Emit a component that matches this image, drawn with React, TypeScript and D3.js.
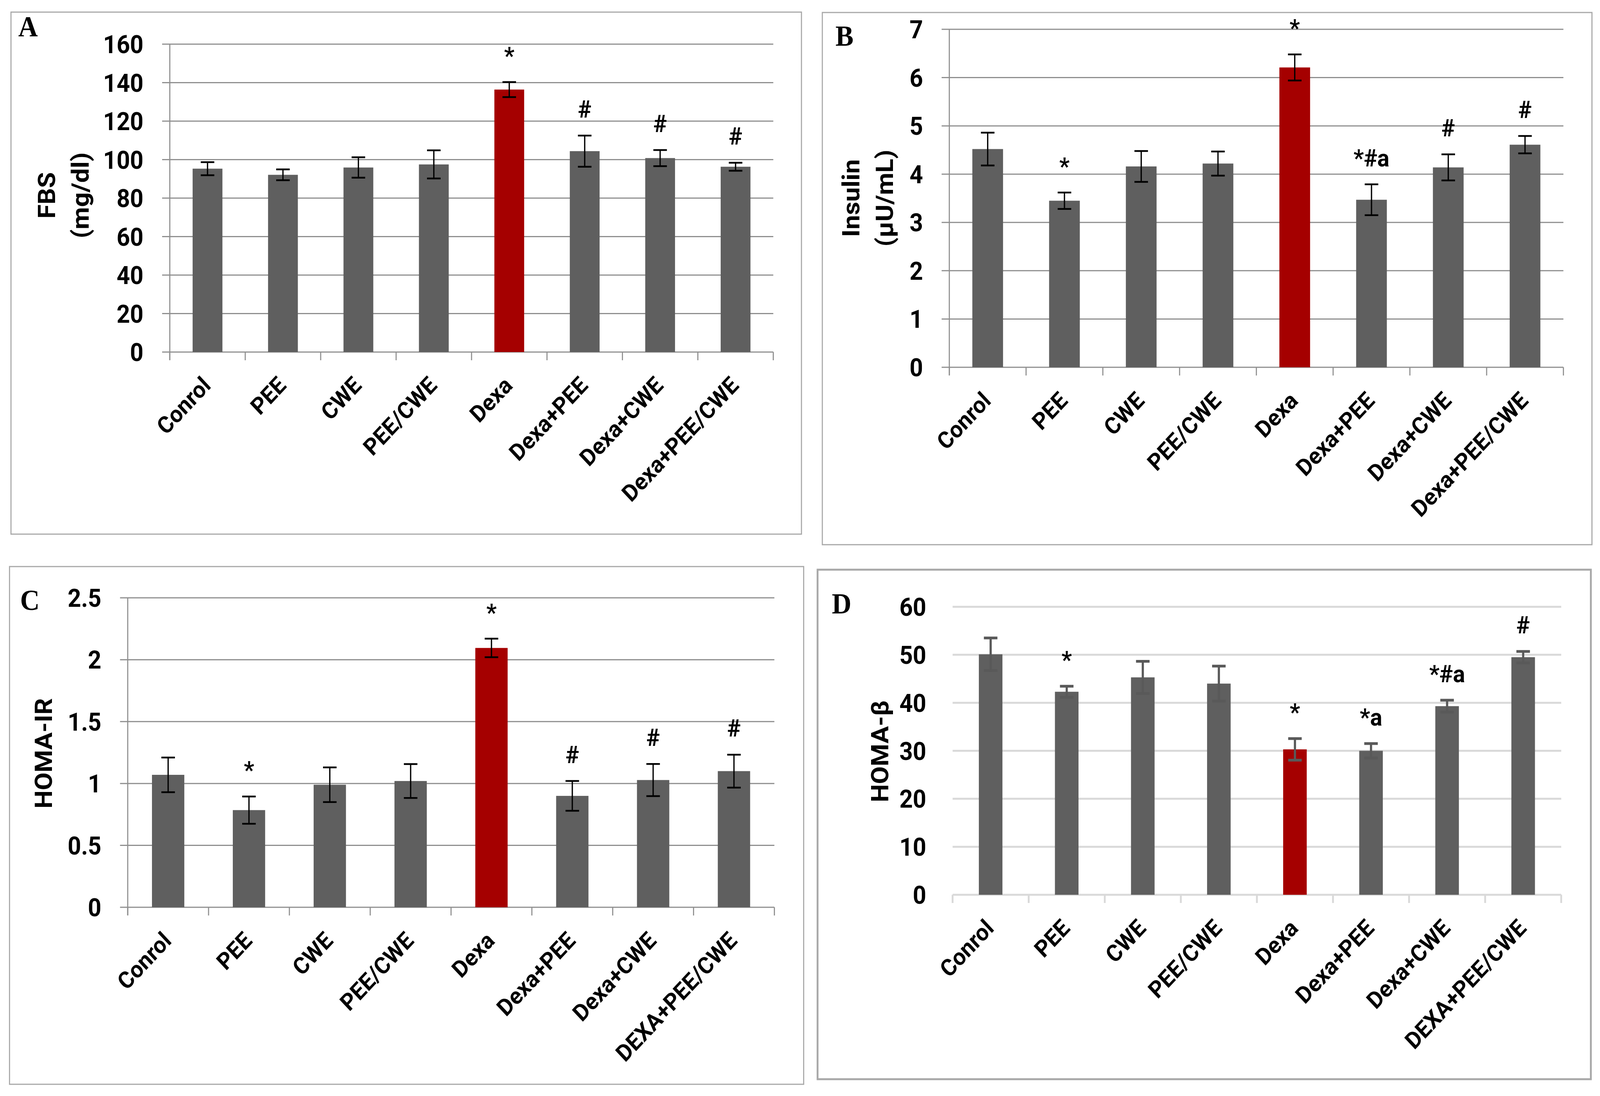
import * as d3 from "d3";

// group labels, as printed under the bars
const groups = ["Conrol", "PEE", "CWE", "PEE/CWE", "Dexa", "Dexa+PEE", "Dexa+CWE", "Dexa+PEE/CWE"];
const groupsUpper = ["Conrol", "PEE", "CWE", "PEE/CWE", "Dexa", "Dexa+PEE", "Dexa+CWE", "DEXA+PEE/CWE"];

// A: fasting blood sugar
const fbsMean = [95.3, 92.1, 95.9, 97.5, 136.4, 104.4, 100.8, 96.3];
const fbsErr = [3.4, 2.8, 5.3, 7.3, 3.9, 8.1, 4.2, 2.1];
const fbsMarks = ["", "", "", "", "*", "#", "#", "#"];
const fbsTicks = [0, 20, 40, 60, 80, 100, 120, 140, 160];

// B: insulin
const insulinMean = [4.52, 3.45, 4.16, 4.22, 6.21, 3.47, 4.14, 4.61];
const insulinErr = [0.34, 0.17, 0.32, 0.25, 0.27, 0.32, 0.27, 0.18];
const insulinMarks = ["", "*", "", "", "*", "*#a", "#", "#"];
const insulinTicks = [0, 1, 2, 3, 4, 5, 6, 7];

// C: HOMA-IR
const homaIrMean = [1.07, 0.785, 0.99, 1.02, 2.095, 0.9, 1.028, 1.1];
const homaIrErr = [0.14, 0.11, 0.14, 0.137, 0.075, 0.12, 0.13, 0.133];
const homaIrMarks = ["", "*", "", "", "*", "#", "#", "#"];
const homaIrTicks = [0, 0.5, 1, 1.5, 2, 2.5];

// D: HOMA-beta
const homaBMean = [50.1, 42.3, 45.3, 44.0, 30.3, 30.0, 39.3, 49.5];
const homaBErr = [3.4, 1.15, 3.35, 3.65, 2.25, 1.5, 1.25, 1.2];
const homaBMarks = ["", "*", "", "", "*", "*a", "*#a", "#"];
const homaBTicks = [0, 10, 20, 30, 40, 50, 60];

const highlight = "Dexa";

const font = "Roboto, 'DejaVu Sans', sans-serif";
const barGray = "#5f5f5f";
const barRed = "#a50000";

type PanelSpec = {
  letter: string;
  box: [number, number, number, number]; // x, y, w, h
  letterPos: [number, number];
  x0: number;
  x1: number;
  yTop: number;
  y0: number;
  categories: string[];
  mean: number[];
  err: number[];
  marks: string[];
  ticks: number[];
  title: string[];
  titleX: number[]; // baselines of the rotated title lines
  titleY: number;
  barRatio: number;
  light: boolean; // panel D uses the light excel theme
};

const panels: PanelSpec[] = [
  {
    letter: "A",
    box: [30, 31, 2160, 1336],
    letterPos: [50, 93],
    x0: 464,
    x1: 2113,
    yTop: 113,
    y0: 901,
    categories: groups,
    mean: fbsMean,
    err: fbsErr,
    marks: fbsMarks,
    ticks: fbsTicks,
    title: ["FBS", "(mg/dl)"],
    titleX: [150, 242],
    titleY: 500,
    barRatio: 0.395,
    light: false,
  },
  {
    letter: "B",
    box: [2247, 32, 2103, 1362],
    letterPos: [2283, 117],
    x0: 2594,
    x1: 4272,
    yTop: 75,
    y0: 940,
    categories: groups,
    mean: insulinMean,
    err: insulinErr,
    marks: insulinMarks,
    ticks: insulinTicks,
    title: ["Insulin", "(μU/mL)"],
    titleX: [2348, 2440],
    titleY: 507,
    barRatio: 0.4,
    light: false,
  },
  {
    letter: "C",
    box: [26, 1450, 2170, 1325],
    letterPos: [55, 1561],
    x0: 349,
    x1: 2116,
    yTop: 1530,
    y0: 2322,
    categories: groupsUpper,
    mean: homaIrMean,
    err: homaIrErr,
    marks: homaIrMarks,
    ticks: homaIrTicks,
    title: ["HOMA-IR"],
    titleX: [142],
    titleY: 1928,
    barRatio: 0.4,
    light: false,
  },
  {
    letter: "D",
    box: [2234, 1458, 2113, 1304],
    letterPos: [2273, 1570],
    x0: 2603,
    x1: 4266,
    yTop: 1553,
    y0: 2290,
    categories: groupsUpper,
    mean: homaBMean,
    err: homaBErr,
    marks: homaBMarks,
    ticks: homaBTicks,
    title: ["HOMA-β"],
    titleX: [2427],
    titleY: 1923,
    barRatio: 0.31,
    light: true,
  },
];

function Panel({ p }: { p: PanelSpec }) {
  const x = d3.scaleBand<string>().domain(p.categories).range([p.x0, p.x1]);
  const y = d3.scaleLinear([0, d3.max(p.ticks) as number], [p.y0, p.yTop]);
  const bw = x.bandwidth();
  const barW = bw * p.barRatio;
  const capW = 37;

  const gridColor = p.light ? "#d9d9d9" : "#8f8f8f";
  const gridWidth = p.light ? 5 : 3;
  const errColor = p.light ? "#595959" : "#000";
  const errWidth = p.light ? 6 : 3.5;
  const tickOut = 21;

  const boundaries = d3.range(p.categories.length + 1).map((i) => p.x0 + i * bw);

  return (
    <g>
      <rect
        x={p.box[0]}
        y={p.box[1]}
        width={p.box[2]}
        height={p.box[3]}
        fill="#fff"
        stroke="#a8a8a8"
        strokeWidth={p.light ? 5 : 3}
      />
      <text
        x={p.letterPos[0]}
        y={p.letterPos[1]}
        fontFamily="'Liberation Serif', 'DejaVu Serif', serif"
        fontWeight="bold"
        fontSize={74}
      >
        {p.letter}
      </text>

      {/* gridlines */}
      {p.ticks.map((t) => (
        <line
          key={t}
          x1={p.light ? p.x0 : p.x0 - tickOut}
          x2={p.x1}
          y1={y(t)}
          y2={y(t)}
          stroke={gridColor}
          strokeWidth={gridWidth}
        />
      ))}

      {/* axes */}
      {!p.light && (
        <line x1={p.x0} x2={p.x0} y1={p.yTop} y2={p.y0 + 20} stroke={gridColor} strokeWidth={3} />
      )}
      {boundaries.map((bx, i) => (
        <line
          key={i}
          x1={bx}
          x2={bx}
          y1={p.y0}
          y2={p.y0 + 21}
          stroke={gridColor}
          strokeWidth={gridWidth}
        />
      ))}

      {/* bars */}
      {p.categories.map((c, i) => (
        <rect
          key={c}
          x={(x(c) as number) + (bw - barW) / 2}
          y={y(p.mean[i])}
          width={barW}
          height={p.y0 - y(p.mean[i])}
          fill={groups[i] === highlight ? barRed : barGray}
        />
      ))}

      {/* error bars */}
      {p.categories.map((c, i) => {
        const cx = (x(c) as number) + bw / 2;
        const hi = y(p.mean[i] + p.err[i]);
        const lo = y(p.mean[i] - p.err[i]);
        return (
          <g key={c} stroke={errColor} strokeWidth={errWidth}>
            <line x1={cx} x2={cx} y1={hi} y2={lo} />
            <line x1={cx - capW / 2} x2={cx + capW / 2} y1={hi} y2={hi} strokeWidth={errWidth + 1} />
            <line x1={cx - capW / 2} x2={cx + capW / 2} y1={lo} y2={lo} strokeWidth={errWidth + 1} />
          </g>
        );
      })}

      {/* significance marks */}
      {p.categories.map((c, i) =>
        p.marks[i] ? (
          <text
            key={c}
            x={(x(c) as number) + bw / 2}
            y={y(p.mean[i] + p.err[i]) - 46}
            textAnchor="middle"
            fontFamily={font}
            fontWeight="bold"
            fontSize={62}
          >
            {p.marks[i]}
          </text>
        ) : null,
      )}

      {/* y tick labels */}
      {p.ticks.map((t) => (
        <text
          key={t}
          x={p.x0 - 72}
          y={y(t)}
          dy="0.36em"
          textAnchor="end"
          fontFamily={font}
          fontWeight="bold"
          fontSize={64}
        >
          {String(t)}
        </text>
      ))}

      {/* category labels */}
      {p.categories.map((c) => {
        const cx = (x(c) as number) + bw / 2;
        return (
          <text
            key={c}
            transform={`translate(${cx + 12} ${p.y0 + 89}) rotate(-45)`}
            textAnchor="end"
            fontFamily={font}
            fontWeight="bold"
            fontSize={60}
          >
            {c}
          </text>
        );
      })}

      {/* y axis title */}
      {p.title.map((line, i) => (
        <text
          key={line}
          transform={`translate(${p.titleX[i]} ${p.titleY}) rotate(-90)`}
          textAnchor="middle"
          fontFamily={font}
          fontWeight="bold"
          fontSize={66}
        >
          {line}
        </text>
      ))}
    </g>
  );
}

export default function App() {
  const width = 4372;
  const height = 2805;
  return (
    <svg
      viewBox={`0 0 ${width} ${height}`}
      preserveAspectRatio="none"
      style={{
        position: "fixed",
        left: 0,
        top: 0,
        width: "100vw",
        height: "100vh",
        display: "block",
        background: "#fff",
      }}
    >
      <rect width={width} height={height} fill="#fff" />
      {panels.map((p) => (
        <Panel key={p.letter} p={p} />
      ))}
    </svg>
  );
}
